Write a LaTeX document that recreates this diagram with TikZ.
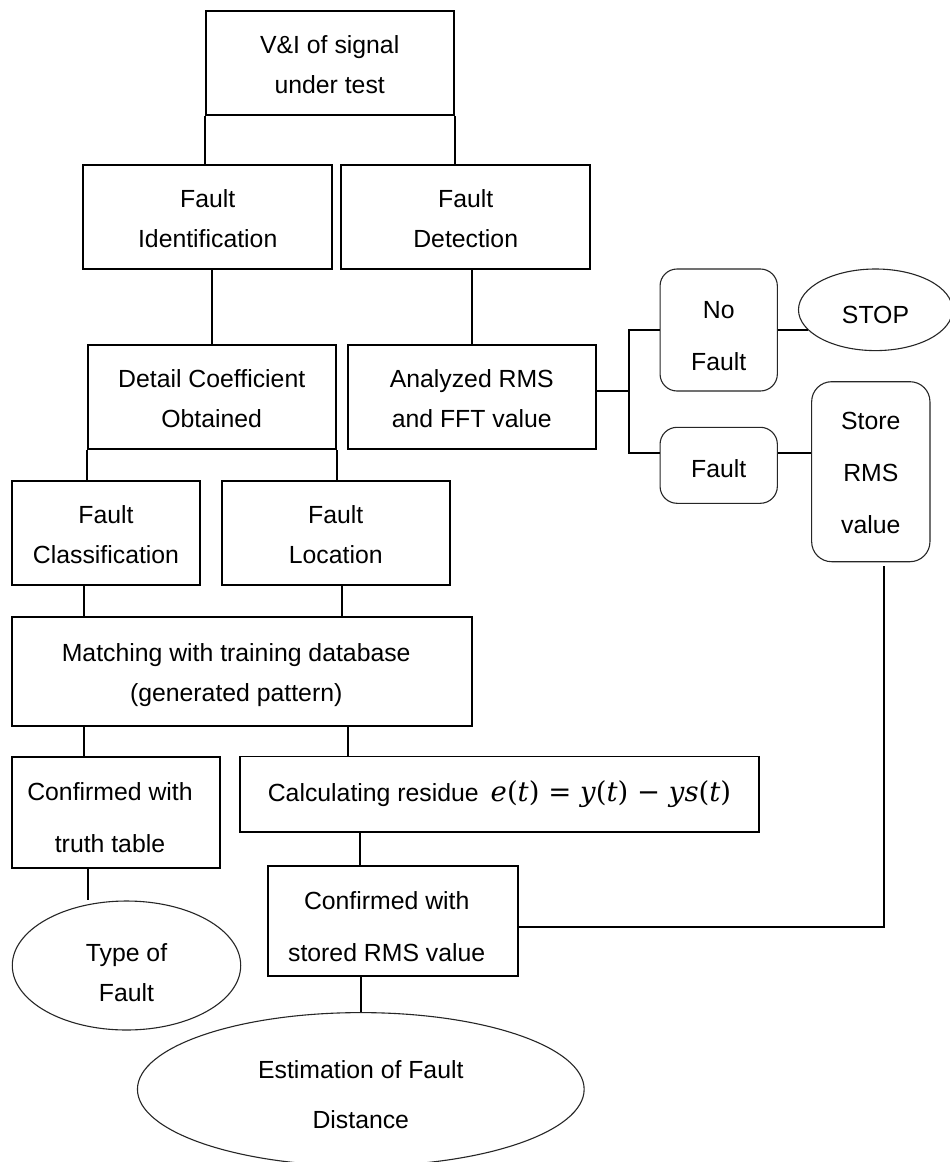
\documentclass[tikz,border=0pt]{standalone}
\usepackage{fontspec}
\setmainfont{Liberation Sans}
\newfontfamily\formulafont{DejaVu Serif}
\usetikzlibrary{shapes.geometric,calc}
% invisible struts that fix where each text line sits inside its box
\newcommand{\stA}{\rule[-6pt]{0pt}{32pt}}
\newcommand{\stB}{\rule[-6pt]{0pt}{40pt}}
\newcommand{\stC}{\rule[-2pt]{0pt}{36pt}}
\newcommand{\stD}{\rule[-6pt]{0pt}{36pt}}
\newcommand{\padR}{\hspace*{12pt}}
% residue formula set in an italic serif
\newcommand{\vi}[1]{\textit{#1}}
\begin{document}
\begin{tikzpicture}[x=1pt,y=-1pt,
  txt/.style={font=\fontsize{24.8}{40}\selectfont, align=center, inner sep=0pt, text=black},
  wide/.style={font=\fontsize{24.8}{52}\selectfont},
  box/.style={txt, draw=black, line width=1.8pt, rectangle},
  rbox/.style={txt, draw=black!85, line width=1.1pt, rectangle, rounded corners=17pt},
  oval/.style={txt, draw=black!85, line width=1.1pt, ellipse},
  link/.style={draw=black, line width=1.8pt},
]
\fill[white] (0,0) rectangle (950,1162);
\useasboundingbox (0,0) rectangle (950,1162);

% top of the flow
\node[box, minimum width=248pt, minimum height=104.3pt] (vi) at (329.7,63.2) {\stA V\&I of signal\\\stA under test};
\node[box, minimum width=248.7pt, minimum height=104pt] (fi) at (207.7,217) {\stA Fault\\\stA Identification};
\node[box, minimum width=248.7pt, minimum height=104pt] (fd) at (465.7,217) {\stA Fault\\\stA Detection};
\node[box, minimum width=248pt, minimum height=104.3pt] (dc) at (211.7,397.2) {\stA Detail Coefficient\\\stA Obtained};
\node[box, minimum width=248.3pt, minimum height=104.3pt] (ar) at (471.8,397.2) {\stA Analyzed RMS\\\stA and FFT value};

% detection branch
\node[rbox, wide, minimum width=117.3pt, minimum height=122pt] (nf) at (718.7,330) {\stB No\\\stB Fault};
\node[rbox, minimum width=117.3pt, minimum height=76pt] (fa) at (718.7,465.3) {\stD Fault};
\node[oval, minimum width=154pt, minimum height=81.6pt] (stop) at (875.5,309.8) {\stB STOP};
\node[rbox, wide, rounded corners=20pt, minimum width=118.3pt, minimum height=180pt] (st) at (870.8,471.7) {\stA Store\\\stA RMS\\\stA value};

% identification branch
\node[box, minimum width=188pt, minimum height=104pt] (fc) at (106,533) {\stA Fault\\\stA Classification};
\node[box, minimum width=228.3pt, minimum height=104pt] (fl) at (335.8,533) {\stA Fault\\\stA Location};
\node[box, minimum width=460.3pt, minimum height=108.4pt] (m) at (242.2,671.5) {\stA Matching with training database\padR\\\stA (generated pattern)\padR};
\node[box, wide, minimum width=208pt, minimum height=111pt] (ct) at (116,812.2) {\stB Confirmed with\padR\\\stB truth table\padR};
\node[box, minimum width=519pt, minimum height=75.6pt] (calc) at (499.5,794.3)
  {Calculating residue\hspace{12pt}{\formulafont\fontsize{27.5}{30}\selectfont
   \vi{e}(\vi{t}) = \vi{y}(\vi{t}) − \vi{ys}(\vi{t})}};
\node[box, wide, minimum width=250pt, minimum height=110pt] (cs) at (392.7,921) {\stB Confirmed with\padR\\\stB stored RMS value\padR};
\node[oval, minimum width=228.4pt, minimum height=129pt] (tf) at (126.5,965.5) {\stC Type of\\\stC Fault};
\node[oval, font=\fontsize{24.8}{50}\selectfont, minimum width=446.7pt, minimum height=153.4pt] (est) at (360.8,1089.3) {\stB Estimation of Fault\\\stB Distance};

% connectors
\draw[link] (vi.south west) -- (vi.south west |- fi.north);
\draw[link] (vi.south east) -- (vi.south east |- fd.north);
\draw[link] (fi.south -| dc.north) -- (dc.north);
\draw[link] (fd.south -| ar.north) -- (ar.north);
\draw[link] (dc.south west) -- (dc.south west |- fc.north);
\draw[link] (dc.south east) -- (dc.south east |- fl.north);
\draw[link] ([xshift=-22.3pt]fc.south) -- ([xshift=-22.3pt]fc.south |- m.north);
\draw[link] ([xshift=5.9pt]fl.south) -- ([xshift=5.9pt]fl.south |- m.north);
\draw[link] ([xshift=-158.5pt]m.south) -- ([xshift=-158.5pt]m.south |- ct.north);
\draw[link] ([xshift=-151.8pt]calc.north |- m.south) -- ([xshift=-151.8pt]calc.north);
\draw[link] ([xshift=-28.3pt]ct.south) -- ([xshift=-28.3pt]ct.south |- tf.north);
\draw[link] ([xshift=-32.4pt]cs.north |- calc.south) -- ([xshift=-32.4pt]cs.north);
\draw[link] (cs.south -| est.north) -- (est.north);

\draw[link] ([yshift=5.9pt]ar.east) -- ++(31.9,0) coordinate (j);
\draw[link] (nf.west) -| (j) |- ([yshift=12.6pt]fa.west);
\draw[link] (stop.197.5 -| nf.east) -- (stop.197.5);
\draw[link] ([yshift=12.6pt]fa.east) -- ([yshift=12.6pt]fa.east -| st.west);
\draw[link] ([xshift=13.2pt,yshift=-4pt]st.south) |- ([yshift=-5.7pt]cs.east);
\end{tikzpicture}
\end{document}
